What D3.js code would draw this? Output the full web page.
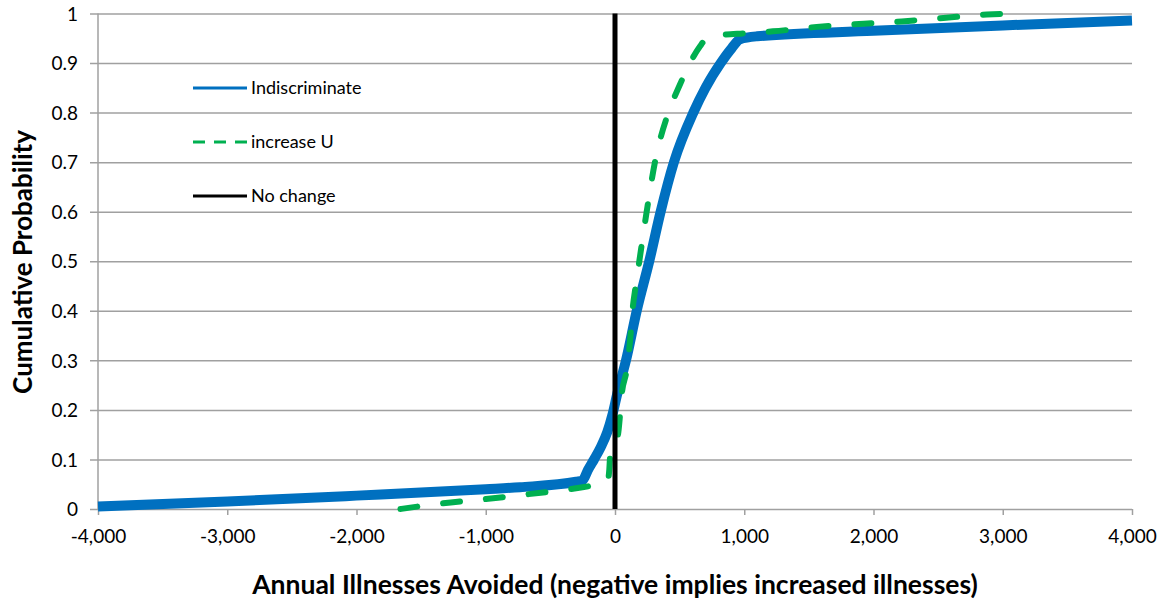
<!DOCTYPE html>
<html>
<head>
<meta charset="utf-8">
<script src="https://cdn.jsdelivr.net/npm/d3@7"></script>
<style>
  body { margin: 0; background: #fff; }
  text { font-family: Lato, "Open Sans", sans-serif; fill: #000; }
</style>
</head>
<body>
<div class="chart"></div>
<script>
// series: annual illnesses avoided (x) vs cumulative probability (y)
var indiscX = [-4000, -3000, -2437, -2000, -1000, -735, -300, -250, -209, -162, -110, -60, -20, 20, 50, 85, 168, 265, 353, 456, 606, 700, 818, 903, 967, 1100, 2000, 3000, 4000];
var indiscP = [0.005, 0.015, 0.0216, 0.027, 0.040, 0.044, 0.055, 0.058, 0.079, 0.1, 0.125, 0.155, 0.19, 0.235, 0.265, 0.3, 0.4, 0.5, 0.6, 0.7, 0.8, 0.85, 0.9, 0.93, 0.948, 0.954, 0.965, 0.976, 0.986];

var increaseX = [-1660, -1330, -1000, -670, -350, -200, -100, -55, -44, -38, 0, 26, 39, 52, 90, 105, 120, 135, 160, 188, 245, 309, 413, 500, 580, 658, 720, 835, 1000, 1222, 1561, 2218, 2540, 2876, 3150];
var increaseP = [0, 0.0115, 0.02, 0.03, 0.04, 0.046, 0.05, 0.058, 0.08, 0.105, 0.13, 0.155, 0.19, 0.23, 0.28, 0.31, 0.35, 0.4, 0.45, 0.5, 0.6, 0.7, 0.8, 0.855, 0.9, 0.934, 0.952, 0.957, 0.96, 0.964, 0.973, 0.984, 0.991, 0.998, 1.0];

var noChangeX = [0, 0];
var noChangeP = [0, 1];

var xTicks = [-4000, -3000, -2000, -1000, 0, 1000, 2000, 3000, 4000];
var yTicks = [0, 0.1, 0.2, 0.3, 0.4, 0.5, 0.6, 0.7, 0.8, 0.9, 1];
var seriesNames = ["Indiscriminate", "increase U", "No change"];

var svgWidth = 1163, svgHeight = 605;
var margin = { top: 13.5, right: 31, bottom: 96, left: 98 };
var chartWidth = svgWidth - margin.left - margin.right;
var chartHeight = svgHeight - margin.top - margin.bottom;

var svg = d3.select(".chart").append("svg")
  .attr("width", svgWidth)
  .attr("height", svgHeight);

var chartGroup = svg.append("g")
  .attr("transform", `translate(${margin.left}, ${margin.top})`);

var xScale = d3.scaleLinear().domain([-4000, 4000]).range([0, chartWidth]);
var yScale = d3.scaleLinear().domain([0, 1]).range([chartHeight, 0]);

// horizontal gridlines with little tick stubs on the left
var yAxis = d3.axisLeft(yScale)
  .tickValues(yTicks)
  .tickSize(-chartWidth)
  .tickFormat(d => String(+d.toFixed(1)));
var yG = chartGroup.append("g").call(yAxis);
yG.select(".domain").remove();
yG.selectAll(".tick line").attr("stroke", "#a0a0a0").attr("stroke-width", 1.5).attr("x1", -8);
yG.selectAll(".tick text").attr("x", -20).attr("dy", "0.35em").style("font-size", "19px");

// y axis line
chartGroup.append("line")
  .attr("x1", 0).attr("x2", 0)
  .attr("y1", 0).attr("y2", chartHeight)
  .attr("stroke", "#a0a0a0").attr("stroke-width", 1.5);

var commaFmt = d3.format(",");
var xAxis = d3.axisBottom(xScale)
  .tickValues(xTicks)
  .tickSize(6)
  .tickFormat(d => commaFmt(d).replace("\u2212", "-"));
var xG = chartGroup.append("g")
  .attr("transform", `translate(0, ${chartHeight})`)
  .call(xAxis);
xG.select(".domain").remove();
xG.selectAll(".tick line").attr("stroke", "#a0a0a0").attr("stroke-width", 1.5);
xG.selectAll(".tick text").attr("y", 21).attr("dy", "0.71em").style("font-size", "19px");

var line = d3.line()
  .x(d => xScale(d[0]))
  .y(d => yScale(d[1]))
  .curve(d3.curveMonotoneX);

chartGroup.append("path")
  .datum(indiscX.map((x, i) => [x, indiscP[i]]))
  .attr("d", line)
  .attr("fill", "none")
  .attr("stroke", "#0070c0")
  .attr("stroke-width", 10)
  .attr("stroke-linejoin", "round");

chartGroup.append("path")
  .datum(increaseX.map((x, i) => [x, increaseP[i]]))
  .attr("d", line)
  .attr("fill", "none")
  .attr("stroke", "#00b050")
  .attr("stroke-width", 6)
  .attr("stroke-linecap", "round")
  .attr("stroke-dasharray", "17,26");

chartGroup.append("path")
  .datum(noChangeX.map((x, i) => [x, noChangeP[i]]))
  .attr("d", d3.line().x(d => xScale(d[0])).y(d => yScale(d[1])))
  .attr("stroke", "#000")
  .attr("stroke-width", 5);

// legend
var legendStyles = [
  { color: "#0070c0", dash: null },
  { color: "#00b050", dash: "12,9" },
  { color: "#000", dash: null }
];
var legend = chartGroup.append("g")
  .attr("transform", `translate(${193 - margin.left}, ${88 - margin.top})`);
seriesNames.forEach(function(name, i) {
  var g = legend.append("g").attr("transform", `translate(0, ${i * 54})`);
  g.append("line")
    .attr("x1", 0).attr("x2", 54)
    .attr("stroke", legendStyles[i].color)
    .attr("stroke-width", 3)
    .attr("stroke-dasharray", legendStyles[i].dash);
  g.append("text")
    .attr("x", 58).attr("dy", "0.35em")
    .style("font-size", "18px")
    .text(name);
});

// axis titles
svg.append("text")
  .attr("transform", `translate(${margin.left + chartWidth / 2}, 585)`)
  .attr("text-anchor", "middle")
  .attr("dy", "0.35em")
  .style("font-size", "26.5px")
  .style("font-weight", "bold")
  .text("Annual Illnesses Avoided (negative implies increased illnesses)");

svg.append("text")
  .attr("transform", "translate(23, 262) rotate(-90)")
  .attr("text-anchor", "middle")
  .attr("dy", "0.35em")
  .style("font-size", "26px")
  .style("font-weight", "bold")
  .text("Cumulative Probability");
</script>
</body>
</html>
